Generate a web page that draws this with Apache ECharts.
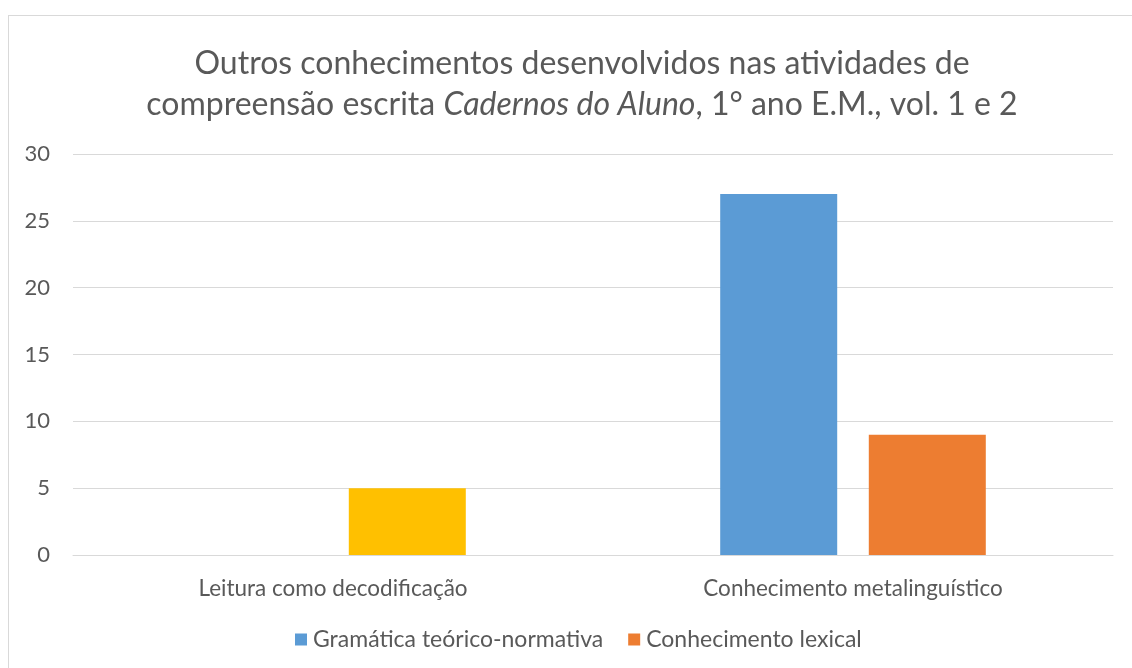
<!DOCTYPE html>
<html>
<head>
<meta charset="utf-8">
<script src="https://cdn.jsdelivr.net/npm/echarts@6/dist/echarts.min.js"></script>
<style>
html,body{margin:0;padding:0;background:#fff;}
#box{position:absolute;left:8px;top:15px;width:1140px;height:670px;border:1px solid #d9d9d9;box-sizing:border-box;}
#chart{position:absolute;left:0;top:0;width:1132px;height:668px;}
</style>
</head>
<body>
<div id="box"></div>
<div id="chart"></div>
<script>
// categorias e valores
var categorias=['Leitura como decodificação','Conhecimento metalinguístico'];
var gramatica=[0,27];
var lexical=[5,9];
var corLexical=['#FFC000','#ED7D31']; // primeira barra aparece amarela
var yTicks=[0,5,10,15,20,25,30];

var chart=echarts.init(document.getElementById('chart'));
var font='Lato';

var lexData=[];
for(var i=0;i<lexical.length;i++){
	lexData.push({value:lexical[i],itemStyle:{color:corLexical[i]}});
}

var option={
	backgroundColor:'transparent',
	animation:false,
	title:{
		text:'Outros conhecimentos desenvolvidos nas atividades de\ncompreensão escrita {i|Cadernos do Aluno}, 1° ano E.M., vol. 1 e 2',
		left:577,
		textAlign:'center',
		top:38,
		textStyle:{
			fontFamily:font,
			fontSize:32,
			fontWeight:'normal',
			color:'#595959',
			lineHeight:41,
			rich:{
				i:{fontFamily:font,fontSize:32,fontStyle:'italic',color:'#595959',lineHeight:41}
			}
		}
	},
	legend:{
		data:['Gramática teórico-normativa','Conhecimento lexical'],
		bottom:12,
		left:290,
		icon:'rect',
		itemWidth:12,
		itemHeight:12,
		itemGap:25,
		itemStyle:{borderWidth:0},
		textStyle:{fontFamily:font,fontSize:23,color:'#595959',padding:[0,0,0,1]}
	},
	grid:{left:73,right:19,top:154,bottom:113},
	xAxis:{
		type:'category',
		data:categorias,
		axisLine:{lineStyle:{color:'#d9d9d9'}},
		axisTick:{show:false},
		axisLabel:{fontFamily:font,fontSize:22.5,color:'#595959',margin:22}
	},
	yAxis:{
		type:'value',
		min:0,
		max:30,
		interval:5,
		axisLine:{show:false},
		axisTick:{show:false},
		splitLine:{lineStyle:{color:'#d9d9d9'}},
		axisLabel:{fontFamily:font,fontSize:22,color:'#595959',margin:23}
	},
	series:[
		{
			name:'Gramática teórico-normativa',
			type:'bar',
			data:gramatica,
			barWidth:117,
			barGap:'27%',
			itemStyle:{color:'#5B9BD5'}
		},
		{
			name:'Conhecimento lexical',
			type:'bar',
			data:lexData,
			barWidth:117,
			itemStyle:{color:'#ED7D31'}
		}
	]
};
chart.setOption(option);
</script>
</body>
</html>
